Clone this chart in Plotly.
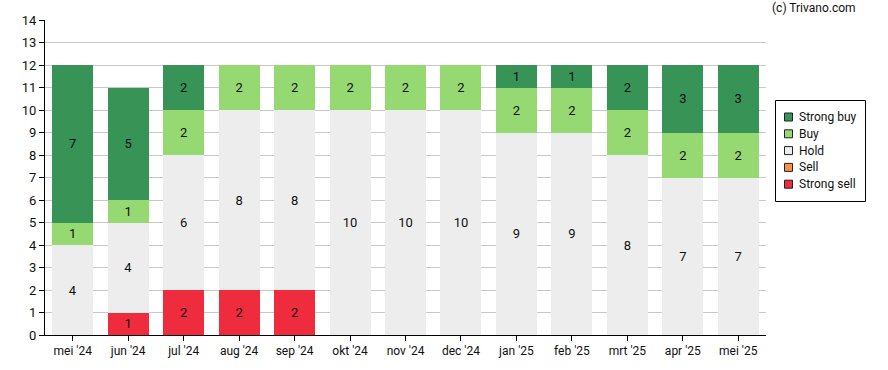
import plotly.graph_objects as go

months = ["mei '24", "jun '24", "jul '24", "aug '24", "sep '24", "okt '24", "nov '24",
          "dec '24", "jan '25", "feb '25", "mrt '25", "apr '25", "mei '25"]
strong_sell = [0, 1, 2, 2, 2, 0, 0, 0, 0, 0, 0, 0, 0]
sell = [0] * 13
hold = [4, 4, 6, 8, 8, 10, 10, 10, 9, 9, 8, 7, 7]
buy = [1, 1, 2, 2, 2, 2, 2, 2, 2, 2, 2, 2, 2]
strong_buy = [7, 5, 2, 0, 0, 0, 0, 0, 1, 1, 2, 3, 3]

series = [
    ("Strong sell", strong_sell, "#ee2c3e"),
    ("Sell", sell, "#f79147"),
    ("Hold", hold, "#ededed"),
    ("Buy", buy, "#96d871"),
    ("Strong buy", strong_buy, "#379356"),
]

W, H = 888, 370
L, R, T, B = 45, 122, 20, 35
PW, PH = W - L - R, H - T - B


def px(x):
    return (x - L) / PW


def py(y):
    return 1 - (y - T) / PH


fig = go.Figure()
for name, vals, col in series:
    fig.add_trace(go.Bar(
        x=months, y=vals, name=name, marker=dict(color=col, line=dict(width=0)),
        text=[str(v) if v else "" for v in vals], textposition="inside",
        insidetextanchor="middle", textfont=dict(color="#111", size=13, family="Roboto"),
        showlegend=False, width=0.74, hoverinfo="skip",
    ))

# custom legend (box, swatches, labels)
shapes = [dict(type="rect", xref="paper", yref="paper", x0=px(775.5), x1=px(865.5),
               y0=py(201.5), y1=py(100.5), line=dict(color="#000", width=1),
               fillcolor="white")]
annotations = []
for i, (name, vals, col) in enumerate(series[::-1]):
    cy = 117 + i * 16.8
    shapes.append(dict(type="rect", xref="paper", yref="paper",
                       x0=px(784.5), x1=px(792.5), y0=py(cy + 4), y1=py(cy - 4),
                       line=dict(color="#222", width=1), fillcolor=col))
    annotations.append(dict(text=name, x=px(797), y=py(cy), xref="paper", yref="paper",
                            xanchor="left", yanchor="middle", showarrow=False,
                            font=dict(size=12, color="#111")))
annotations.append(dict(text="(c) Trivano.com", x=px(858), xref="paper", xanchor="right",
                        y=py(8.5), yref="paper", yanchor="middle",
                        showarrow=False, font=dict(size=12, color="#111")))

fig.update_layout(
    barmode="stack", width=W, height=H,
    margin=dict(l=L, r=R, t=T, b=B, autoexpand=False),
    plot_bgcolor="white", paper_bgcolor="white",
    font=dict(family="Roboto", size=12, color="#111"),
    uniformtext=dict(mode="show", minsize=8),
    showlegend=False,
    xaxis=dict(showline=True, linecolor="#000", linewidth=1, ticks="outside",
               ticklen=5, tickcolor="#000", showgrid=False, automargin=False,
               tickfont=dict(size=12)),
    yaxis=dict(range=[0, 14], dtick=1, showline=True, linecolor="#000", linewidth=1,
               ticks="outside", ticklen=5, tickcolor="#000", gridcolor="#c8c8c8",
               tickfont=dict(size=13), zeroline=False, automargin=False),
    shapes=shapes,
    annotations=annotations,
)
fig.write_html("out.html", config={"displayModeBar": False},
               post_script="document.body.style.margin='0';")
